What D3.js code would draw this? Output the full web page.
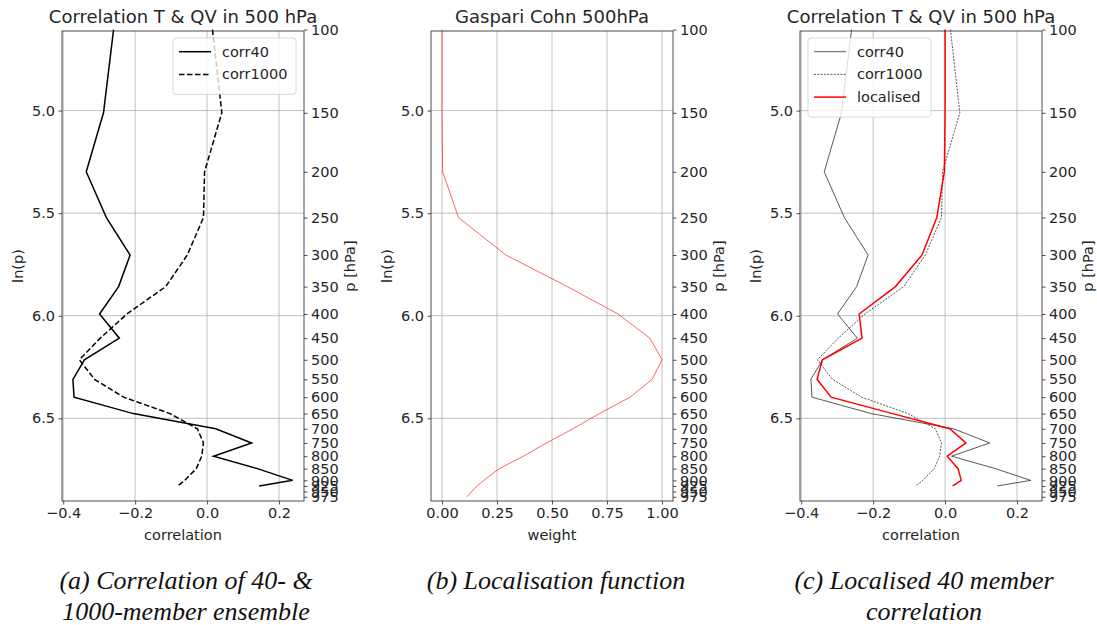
<!DOCTYPE html>
<html>
<head>
<meta charset="utf-8">
<script src="https://cdn.jsdelivr.net/npm/d3@7"></script>
<style>
  body { margin: 0; background: #fff; }
  svg text { font-family: "DejaVu Sans", sans-serif; fill: #262626; }
  .caption { font-family: "Liberation Serif", serif; font-style: italic; font-size: 26px; fill: #111; }
</style>
</head>
<body>
<svg id="fig" width="1097" height="625"></svg>
<script>
// pressure levels [hPa]
var levels = [100,150,200,250,300,350,400,450,500,550,600,650,700,750,800,850,900,925,950,975];
// correlations only go down to 925 hPa
var corrLevels = [100,150,200,250,300,350,400,450,500,550,600,650,700,750,800,850,900,925];
var corr40 = [-0.26,-0.288,-0.336,-0.28,-0.214,-0.246,-0.299,-0.244,-0.341,-0.373,-0.37,-0.205,0.024,0.124,0.018,0.14,0.238,0.145];
var corr1000 = [0.015,0.041,-0.007,-0.01,-0.055,-0.115,-0.223,-0.297,-0.355,-0.313,-0.232,-0.103,-0.027,-0.01,-0.015,-0.03,-0.062,-0.082];
var localised = [0,0,-0.002,-0.023,-0.064,-0.138,-0.239,-0.231,-0.341,-0.356,-0.317,-0.146,0.013,0.058,0.006,0.036,0.045,0.021];
var gcWeight = [0,0,0.003,0.075,0.29,0.57,0.80,0.945,1.0,0.955,0.855,0.715,0.595,0.475,0.37,0.26,0.19,0.16,0.135,0.114];

var lnTicks = [5.0,5.5,6.0,6.5];
var corrTicks = [-0.4,-0.2,0.0,0.2];
var weightTicks = [0,0.25,0.5,0.75,1.0];

var svg = d3.select("#fig");
var top0 = 31, bot0 = 501;
var y = d3.scaleLinear().domain([4.612, 6.903]).range([top0, bot0]);

function fmtCorr(d){ return d3.format(".1f")(d).replace("-", "\u2212"); }

function drawPanel(left, xDomain, xTicks, xFmt, xLabel, title, series, legendRows, legendX, legendW){
  var right = left + 242;
  var x = d3.scaleLinear().domain(xDomain).range([left, right]);
  var g = svg.append("g");

  // grid
  g.selectAll(".vg").data(xTicks).enter().append("line")
    .attr("x1", d => x(d)).attr("x2", d => x(d))
    .attr("y1", top0).attr("y2", bot0)
    .attr("stroke", "#b0b0b0").attr("stroke-width", 0.8);
  g.selectAll(".hg").data(lnTicks).enter().append("line")
    .attr("x1", left).attr("x2", right)
    .attr("y1", d => y(d)).attr("y2", d => y(d))
    .attr("stroke", "#b0b0b0").attr("stroke-width", 0.8);

  // lines
  series.forEach(function(s){
    var line = d3.line().x(d => x(d[0])).y(d => y(Math.log(d[1])));
    g.append("path")
      .datum(s.values.map((v,i) => [v, s.levels[i]]))
      .attr("d", line)
      .attr("fill", "none")
      .attr("stroke", s.color)
      .attr("stroke-opacity", s.opacity || 1)
      .attr("stroke-width", s.width)
      .attr("stroke-dasharray", s.dash || null);
  });

  // axes
  var bottom = d3.axisBottom(x).tickValues(xTicks).tickFormat(xFmt).tickSize(3.5).tickPadding(3.5);
  var leftAx = d3.axisLeft(y).tickValues(lnTicks).tickFormat(d3.format(".1f")).tickSize(3.5).tickPadding(3.5);
  var rightAx = d3.axisRight(y).tickValues(levels.map(Math.log)).tickFormat((d,i) => levels[i]).tickSize(3.5).tickPadding(3.5);

  [
    g.append("g").attr("transform", "translate(0," + bot0 + ")").call(bottom),
    g.append("g").attr("transform", "translate(" + left + ",0)").call(leftAx),
    g.append("g").attr("transform", "translate(" + right + ",0)").call(rightAx)
  ].forEach(function(a){
    a.select(".domain").remove();
    a.selectAll("line").attr("stroke", "#222").attr("stroke-width", 0.8);
    a.selectAll("text").style("font-size", "14.5px").attr("fill", "#262626")
      .style("font-family", "DejaVu Sans");
  });

  g.append("rect").attr("x", left).attr("y", top0)
    .attr("width", right - left).attr("height", bot0 - top0)
    .attr("fill", "none").attr("stroke", "#222").attr("stroke-width", 0.8);

  // labels
  g.append("text").attr("x", (left + right) / 2).attr("y", 23)
    .attr("text-anchor", "middle").style("font-size", "18px").text(title);
  g.append("text").attr("x", (left + right) / 2).attr("y", 540)
    .attr("text-anchor", "middle").style("font-size", "14.5px").text(xLabel);
  g.append("text").attr("transform", "translate(" + (left - 39) + "," + ((top0 + bot0) / 2) + ") rotate(-90)")
    .attr("text-anchor", "middle").style("font-size", "14.5px").text("ln(p)");
  g.append("text").attr("transform", "translate(" + (right + 51) + "," + ((top0 + bot0) / 2) + ") rotate(-90)")
    .attr("text-anchor", "middle").style("font-size", "14.5px").text("p [hPa]");

  // legend
  if (legendRows.length) {
    var lg = g.append("g");
    lg.append("rect").attr("x", legendX).attr("y", 38)
      .attr("width", legendW).attr("height", 11 + legendRows.length * 22.7)
      .attr("rx", 3).attr("fill", "#fff").attr("fill-opacity", 0.8)
      .attr("stroke", "#d0d0d0").attr("stroke-width", 0.8);
    legendRows.forEach(function(s, i){
      var cy = 51.7 + i * 22.7;
      lg.append("line").attr("x1", legendX + 6).attr("x2", legendX + 38)
        .attr("y1", cy).attr("y2", cy)
        .attr("stroke", s.color).attr("stroke-opacity", s.opacity || 1)
        .attr("stroke-width", s.width).attr("stroke-dasharray", s.dash || null);
      lg.append("text").attr("x", legendX + 49).attr("y", cy + 5)
        .style("font-size", "14.5px").text(s.name);
    });
  }
}

var corrDomain = [-0.4034, 0.2695];
var weightDomain = [-0.05, 1.05];

// (a)
var a40 = {name: "corr40", values: corr40, levels: corrLevels, color: "#000", width: 1.5};
var a1000 = {name: "corr1000", values: corr1000, levels: corrLevels, color: "#000", width: 1.5, dash: "5.5,2.5"};
drawPanel(62, corrDomain, corrTicks, fmtCorr, "correlation", "Correlation T & QV in 500 hPa",
  [a40, a1000], [a40, a1000], 173, 123);

// (b)
var gc = {name: "gc", values: gcWeight, levels: levels, color: "#ff0000", opacity: 0.6, width: 1};
drawPanel(431, weightDomain, weightTicks, d3.format(".2f"), "weight", "Gaspari Cohn 500hPa",
  [gc], [], 0, 0);

// (c)
var c40 = {name: "corr40", values: corr40, levels: corrLevels, color: "#000", opacity: 0.65, width: 1};
var c1000 = {name: "corr1000", values: corr1000, levels: corrLevels, color: "#000", opacity: 0.65, width: 1, dash: "2,1.3"};
var cLoc = {name: "localised", values: localised, levels: corrLevels, color: "#ff0000", width: 1.5};
drawPanel(800, corrDomain, corrTicks, fmtCorr, "correlation", "Correlation T & QV in 500 hPa",
  [c40, c1000, cLoc], [c40, c1000, cLoc], 808, 123);

// sub-captions
var captions = [
  {x: 186, lines: ["(a) Correlation of 40- &", "1000-member ensemble"]},
  {x: 556, lines: ["(b) Localisation function"]},
  {x: 924, lines: ["(c) Localised 40 member", "correlation"]}
];
captions.forEach(function(c){
  c.lines.forEach(function(t, i){
    svg.append("text").attr("class", "caption")
      .attr("x", c.x).attr("y", 589 + i * 31)
      .attr("text-anchor", "middle").text(t);
  });
});
</script>
</body>
</html>
